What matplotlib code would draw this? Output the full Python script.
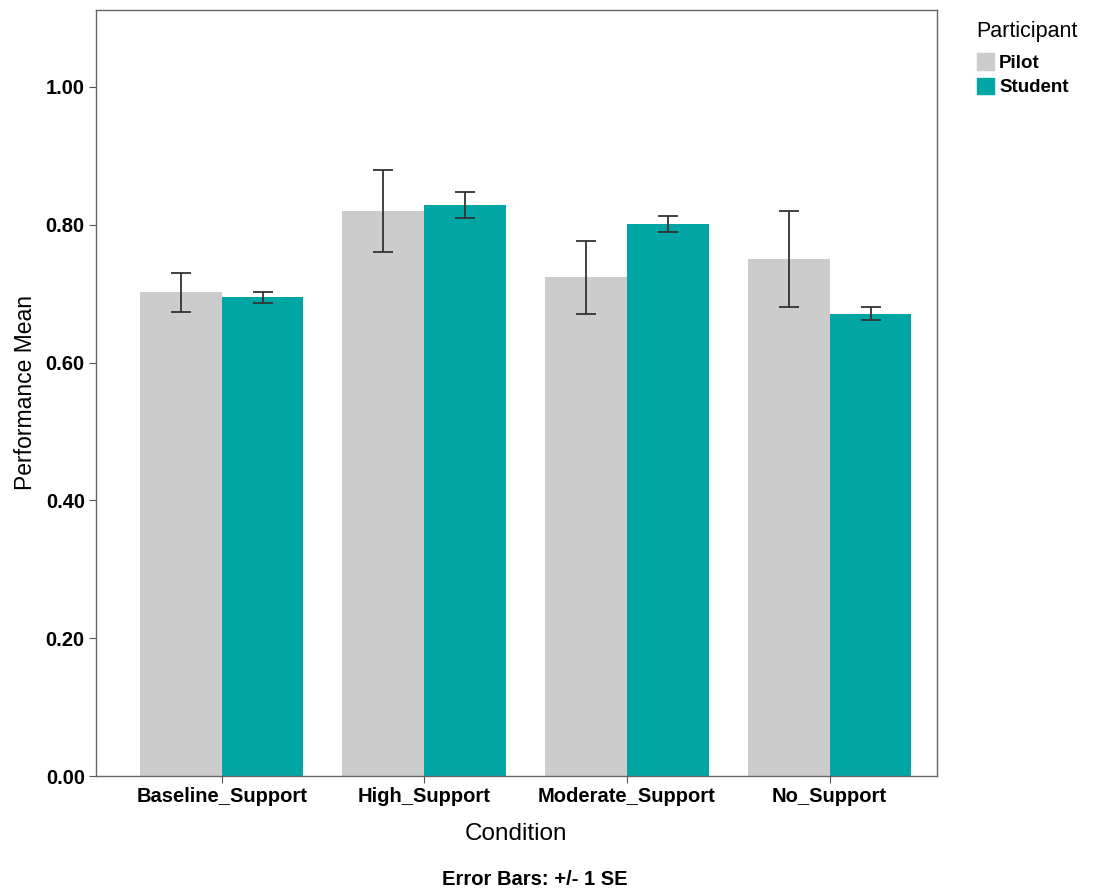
import numpy as np
import matplotlib.pyplot as plt
from matplotlib.patches import Patch

plt.rcParams['font.family'] = ['Liberation Sans', 'DejaVu Sans']

conditions = ['Baseline_Support', 'High_Support', 'Moderate_Support', 'No_Support']
pilot_mean = [0.702, 0.820, 0.724, 0.750]
pilot_se = [0.028, 0.059, 0.053, 0.070]
student_mean = [0.695, 0.829, 0.801, 0.671]
student_se = [0.008, 0.019, 0.012, 0.009]

pilot_color = '#cccccc'
student_color = '#00a6a4'

fig = plt.figure(figsize=(10.93, 8.93), dpi=100)
ax = fig.add_axes([0.0878, 0.131, 0.7695, 0.858])

x = np.arange(len(conditions))
w = 0.404
err_kw = dict(ecolor='#333333', elinewidth=1.3, capsize=7, capthick=1.3)
ax.bar(x - w / 2, pilot_mean, w, yerr=pilot_se, color=pilot_color, error_kw=err_kw)
ax.bar(x + w / 2, student_mean, w, yerr=student_se, color=student_color, error_kw=err_kw)

ax.set_xlim(-0.62, 3.53)
ax.set_ylim(0, 1.112)
ax.set_xticks(x)
ax.set_xticklabels(conditions, fontsize=14.5, fontweight='bold')
ax.set_yticks([0, 0.2, 0.4, 0.6, 0.8, 1.0])
ax.set_yticklabels(['0.00', '0.20', '0.40', '0.60', '0.80', '1.00'], fontsize=14.5, fontweight='bold')
ax.tick_params(length=5, color='#555555', pad=3)
for s in ax.spines.values():
    s.set_color('#666666')
    s.set_linewidth(1.0)

ax.set_ylabel('Performance Mean', fontsize=16.5, labelpad=6)
ax.set_xlabel('Condition', fontsize=17.5, labelpad=12)
fig.text(0.489, 0.005, 'Error Bars: +/- 1 SE', ha='center', va='bottom',
         fontsize=14.5, fontweight='bold')

handles = [Patch(color=pilot_color), Patch(color=student_color)]
leg = fig.legend(handles, ['Pilot', 'Student'], title='Participant',
                 loc='upper left', bbox_to_anchor=(0.878, 0.995), frameon=False,
                 handlelength=0.95, handleheight=0.95, handletextpad=0.25,
                 labelspacing=0.3, prop={'weight': 'bold', 'size': 13.5},
                 title_fontsize=15.5, alignment='left')
leg._legend_box.sep = 8

fig.savefig('out.png', dpi=100)
